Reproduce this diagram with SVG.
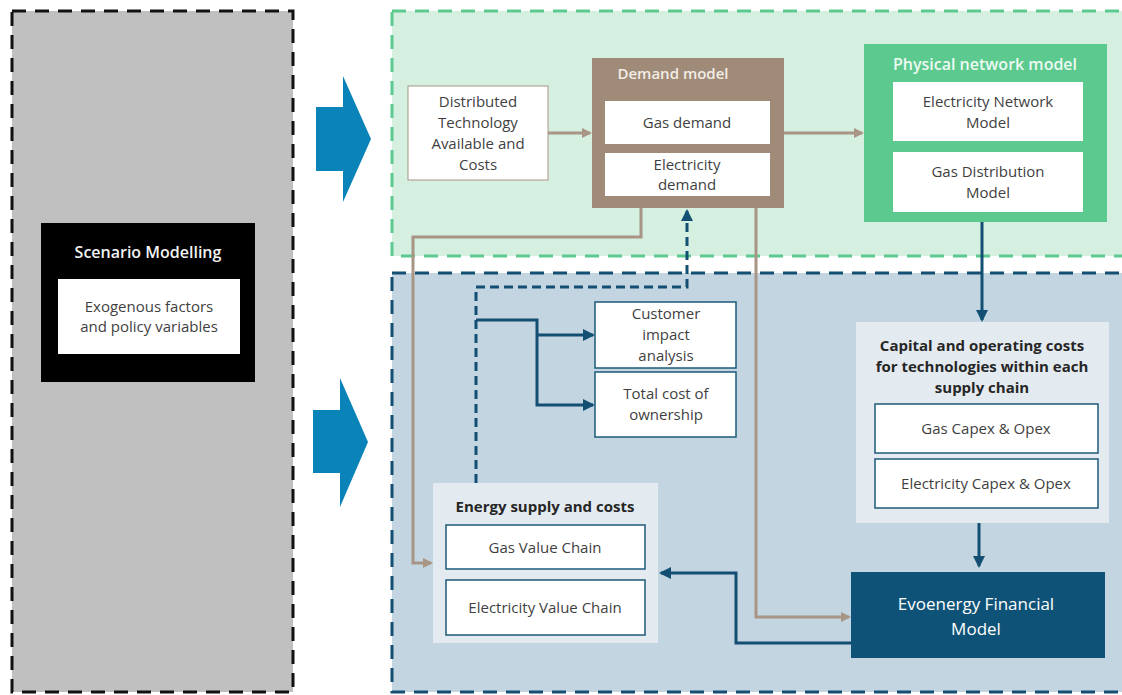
<svg xmlns="http://www.w3.org/2000/svg" width="1122" height="695" viewBox="0 0 1122 695">
<style>
text{font-family:"Open Sans","Liberation Sans",sans-serif;font-size:15px;text-anchor:middle;fill:#3f3f3f}
.b{font-weight:bold;fill:#262626}
.t{font-weight:600}
.w{fill:#ffffff}
.wb{fill:#f2f2f2;font-size:16px;font-weight:600}
.wbox{fill:#ffffff;stroke:#1b5a7a;stroke-width:1.5}
.brown{fill:none;stroke:#a89585;stroke-width:3}
.navy{fill:none;stroke:#124f72;stroke-width:3}
</style>
<defs>
<marker id="ab" markerWidth="10" markerHeight="10" refX="8" refY="5" orient="auto" markerUnits="userSpaceOnUse"><path d="M0,0 L10,5 L0,10 Z" fill="#a89585"/></marker>
<marker id="an" markerWidth="12" markerHeight="12" refX="10" refY="6" orient="auto" markerUnits="userSpaceOnUse"><path d="M0,0 L12,6 L0,12 Z" fill="#124f72"/></marker>
</defs>
<rect width="1122" height="695" fill="#ffffff"/>
<g id="scenario-area">
<rect x="12" y="11" width="281" height="681" fill="#c0c0c0" stroke="#111" stroke-width="3" stroke-dasharray="14,9"/>
</g>
<g id="green-area">
<rect x="392" y="11" width="740" height="245" fill="#d5efe1" stroke="#5cc98f" stroke-width="3" stroke-dasharray="14,9"/>
</g>
<g id="blue-area">
<rect x="392" y="273" width="740" height="419" fill="#c2d5e0" stroke="#124f72" stroke-width="3" stroke-dasharray="14,9"/>
</g>
<g id="big-arrows" fill="#0a84b8">
<path d="M316,107 H343 V76 L371,139 L343,202 V171 H316 Z"/>
<path d="M313,410 H340 V378 L368,442 L340,507 V473 H313 Z"/>
</g>
<g id="scenario-modelling">
<rect x="41" y="223" width="214" height="159" fill="#000"/>
<text x="148" y="258" class="wb">Scenario Modelling</text>
<rect x="58" y="279" width="182" height="75" fill="#fff"/>
<text x="149" y="312">Exogenous factors</text>
<text x="149" y="332">and policy variables</text>
</g>
<g id="distributed-technology">
<rect x="408" y="86" width="140" height="94" fill="#fff" stroke="#a89585" stroke-width="1"/>
<text x="478" y="107">Distributed</text>
<text x="478" y="128">Technology</text>
<text x="478" y="149">Available and</text>
<text x="478" y="170">Costs</text>
</g>
<g id="demand-model">
<rect x="592" y="58" width="192" height="150" fill="#a08b78"/>
<text x="673" y="79" class="t" style="fill:#f3ede6">Demand model</text>
<rect x="605" y="101" width="165" height="43" fill="#fff"/>
<text x="687" y="128">Gas demand</text>
<rect x="605" y="153" width="165" height="43" fill="#fff"/>
<text x="687" y="170">Electricity</text>
<text x="687" y="190">demand</text>
</g>
<g id="physical-network-model">
<rect x="864" y="44" width="243" height="178" fill="#5cc98f"/>
<text x="985" y="70" class="t" style="fill:#ecfaf2;font-size:16px">Physical network model</text>
<rect x="893" y="82" width="190" height="59" fill="#fff"/>
<text x="988" y="107">Electricity Network</text>
<text x="988" y="128">Model</text>
<rect x="893" y="152" width="190" height="60" fill="#fff"/>
<text x="988" y="177">Gas Distribution</text>
<text x="988" y="198">Model</text>
</g>
<g id="customer-impact">
<rect x="595" y="302" width="141" height="66" class="wbox"/>
<text x="666" y="319">Customer</text>
<text x="666" y="340">impact</text>
<text x="666" y="361">analysis</text>
</g>
<g id="total-cost">
<rect x="595" y="372" width="141" height="65" class="wbox"/>
<text x="666" y="399">Total cost of</text>
<text x="666" y="420">ownership</text>
</g>
<g id="capital-operating-costs">
<rect x="856" y="322" width="253" height="201" fill="#e4ebf0"/>
<text x="982" y="351" class="b">Capital and operating costs</text>
<text x="982" y="372" class="b">for technologies within each</text>
<text x="982" y="393" class="b">supply chain</text>
<rect x="875" y="404" width="223" height="49" class="wbox"/>
<text x="986" y="434">Gas Capex &amp; Opex</text>
<rect x="875" y="459" width="223" height="49" class="wbox"/>
<text x="986" y="489">Electricity Capex &amp; Opex</text>
</g>
<g id="energy-supply">
<rect x="433" y="483" width="225" height="160" fill="#e4ebf0"/>
<text x="545" y="512" class="b">Energy supply and costs</text>
<rect x="446" y="525" width="199" height="44" class="wbox"/>
<text x="545" y="553">Gas Value Chain</text>
<rect x="446" y="580" width="199" height="55" class="wbox"/>
<text x="545" y="613">Electricity Value Chain</text>
</g>
<g id="evoenergy-financial-model">
<rect x="851" y="572" width="254" height="86" fill="#0e5377"/>
<text x="976" y="610" class="w" style="font-size:17px">Evoenergy Financial</text>
<text x="976" y="635" class="w" style="font-size:17px">Model</text>
</g>
<g id="connectors">
<path d="M548,133 H590" class="brown" marker-end="url(#ab)"/>
<path d="M784,133 H862" class="brown" marker-end="url(#ab)"/>
<path d="M641,208 V237 H413 V563 H431" class="brown" marker-end="url(#ab)"/>
<path d="M756,208 V617 H849" class="brown" marker-end="url(#ab)"/>
<path d="M982,222 V320" class="navy" stroke-width="3.5" marker-end="url(#an)"/>
<path d="M979,523 V566" class="navy" stroke-width="3.5" marker-end="url(#an)"/>
<path d="M851,643 H736 V573 H661" class="navy" stroke-width="3.5" marker-end="url(#an)"/>
<path d="M476,483 V287 H687 V211" class="navy" stroke-dasharray="9,5" marker-end="url(#an)"/>
<path d="M476,320 H537 V405 H593" class="navy" marker-end="url(#an)"/>
<path d="M537,335 H593" class="navy" marker-end="url(#an)"/>
</g>
</svg>
